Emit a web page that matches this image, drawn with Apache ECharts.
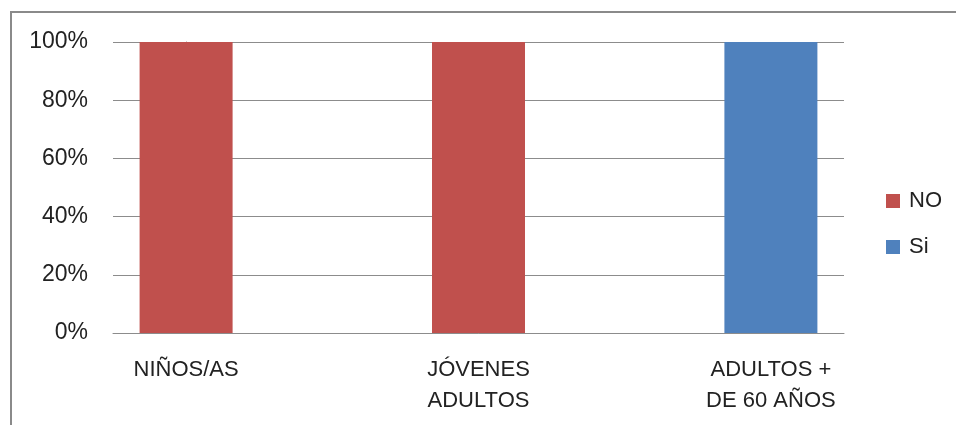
<!DOCTYPE html>
<html><head><meta charset="utf-8">
<script src="https://cdn.jsdelivr.net/npm/echarts@6/dist/echarts.min.js"></script>
<style>html,body{margin:0;padding:0;background:#fff}#c{width:956px;height:425px}</style>
</head><body><div id="c"></div>
<script>
const categories = ['NIÑOS/AS', 'JÓVENES\nADULTOS', 'ADULTOS +\nDE 60 AÑOS'];
const seriesNames = ['NO', 'Si'];
const noValues = [100, 100, 0];
const siValues = [0, 0, 100];
const yTicks = [0, 20, 40, 60, 80, 100];

const font = 'Liberation Sans';
const toPairs = vals => vals.map((v, i) => [i, v]);
const chart = echarts.init(document.getElementById('c'), null, {renderer: 'canvas'});
chart.setOption({
  animation: false,
  textStyle: {fontFamily: font},
  graphic: [{
    type: 'rect', shape: {x: 11, y: 12, width: 960, height: 440},
    style: {fill: 'none', stroke: '#8a8a8a', lineWidth: 2}, z: -1
  }],
  grid: {left: 113, right: 112, top: 42, bottom: 92, containLabel: false},
  legend: {
    orient: 'vertical', left: 886, top: 190, padding: 0, itemWidth: 14, itemHeight: 14,
    itemGap: 24, icon: 'rect',
    textStyle: {fontFamily: font, fontSize: 22, color: '#222', padding: [0, 0, 0, 4]},
    data: seriesNames
  },
  xAxis: {
    type: 'value', min: -0.25, max: 2.25, interval: 0.25,
    splitLine: {show: false},
    axisLine: {show: true, onZero: false, lineStyle: {color: '#8c8c8c', width: 1}},
    axisTick: {show: false},
    axisLabel: {color: '#222', fontSize: 22, fontFamily: font, margin: 21, lineHeight: 31,
      showMinLabel: true, showMaxLabel: true,
      formatter: v => (Math.abs(v - Math.round(v)) < 1e-6 && categories[Math.round(v)] !== undefined) ? categories[Math.round(v)] : ''}
  },
  yAxis: {
    type: 'value', min: 0, max: 100, interval: 20,
    axisLine: {show: true, lineStyle: {color: '#8c8c8c'}},
    axisTick: {show: false},
    splitLine: {lineStyle: {color: '#8c8c8c', width: 1}},
    axisLabel: {color: '#222', fontSize: 23, fontFamily: font, margin: 25, padding: [5, 0, 0, 0],
      formatter: v => yTicks.includes(v) ? v + '%' : ''}
  },
  series: [
    {name: 'NO', type: 'bar', stack: 't', data: toPairs(noValues), barWidth: 93,
     itemStyle: {color: '#C0504D'}},
    {name: 'Si', type: 'bar', stack: 't', data: toPairs(siValues), barWidth: 93,
     itemStyle: {color: '#4F81BD'}}
  ]
});
</script></body></html>
